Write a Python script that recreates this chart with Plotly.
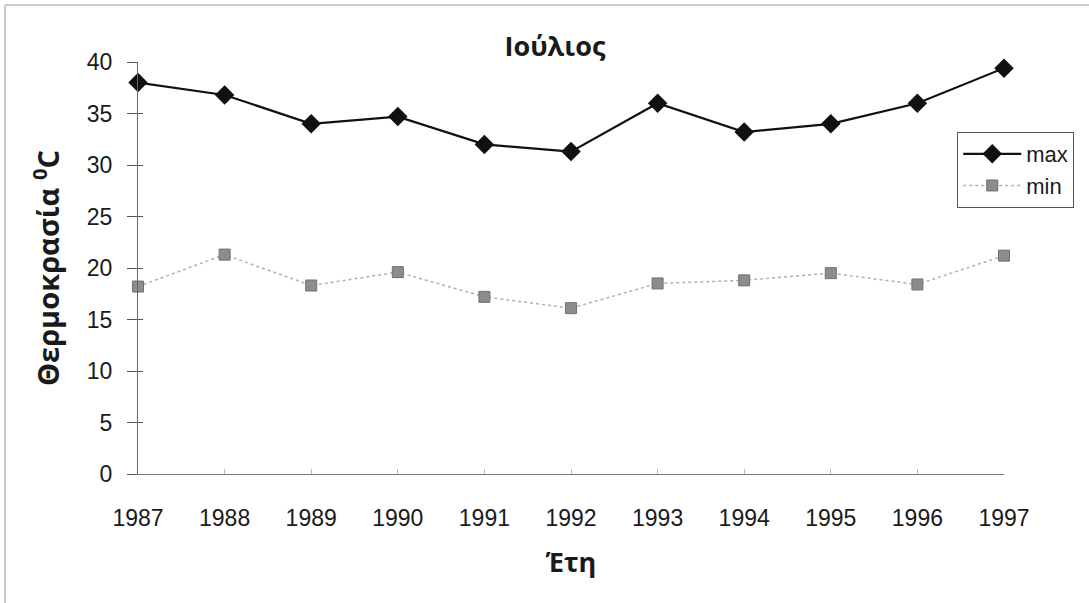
import plotly.graph_objects as go

# July temperatures per year
years = [1987, 1988, 1989, 1990, 1991, 1992, 1993, 1994, 1995, 1996, 1997]
t_max = [38.0, 36.8, 34.0, 34.7, 32.0, 31.3, 36.0, 33.2, 34.0, 36.0, 39.4]
t_min = [18.2, 21.3, 18.3, 19.6, 17.2, 16.1, 18.5, 18.8, 19.5, 18.4, 21.2]
y_ticks = [0, 5, 10, 15, 20, 25, 30, 35, 40]

TXT = "#1a1a1a"
FONT = "Liberation Sans, Arial, sans-serif"
BOLD = "Open Sans, Noto Sans, sans-serif"

fig = go.Figure()

fig.add_trace(go.Scatter(
    x=years, y=t_max, name="max", mode="lines+markers",
    line=dict(color="#111111", width=2.2),
    marker=dict(symbol="diamond", size=15, color="#111111"),
    cliponaxis=False,
))
fig.add_trace(go.Scatter(
    x=years, y=t_min, name="min", mode="lines+markers",
    line=dict(color="#b0b0b0", width=1.5, dash="dot"),
    marker=dict(symbol="square", size=11, color="#8c8c8c",
                line=dict(color="#707070", width=1)),
    cliponaxis=False,
))

fig.update_layout(
    width=1089, height=603,
    margin=dict(l=138, r=85, t=62, b=129),
    paper_bgcolor="white", plot_bgcolor="white",
    font=dict(family=FONT, size=23, color=TXT),
    showlegend=True,
    title=dict(
        text="<b>Ιούλιος</b>",
        font=dict(family=BOLD, size=27, color=TXT),
        x=0.4815, xref="paper", xanchor="center",
        y=1 - 47 / 603, yref="container", yanchor="middle",
    ),
    legend=dict(
        x=0.946, y=0.83, xanchor="left", yanchor="top",
        bgcolor="white", bordercolor="#555555", borderwidth=1,
        font=dict(family=FONT, size=22, color=TXT),
        itemwidth=58, tracegroupgap=0,
    ),
    xaxis=dict(
        range=[1987, 1997], tickmode="array", tickvals=years,
        ticktext=[str(y) for y in years],
        showgrid=False, zeroline=False,
        showline=True, linecolor="#777777", linewidth=1,
        ticks="inside", ticklen=5, tickcolor="#bbbbbb",
        ticklabelstandoff=23,
        title=dict(text="<b>Έτη</b>", font=dict(family=BOLD, size=27, color=TXT),
                   standoff=23),
    ),
    yaxis=dict(
        range=[0, 40], tickmode="array", tickvals=y_ticks,
        showgrid=False, zeroline=False,
        showline=True, linecolor="#666666", linewidth=1,
        ticks="outside", ticklen=10, tickcolor="#555555",
        ticklabelstandoff=10,
        title=dict(text="<b>Θερμοκρασία <sup>0</sup>C</b>",
                   font=dict(family=BOLD, size=29, color=TXT), standoff=18),
    ),
    # mirrored tick marks on the inner side of the y axis
    yaxis2=dict(
        range=[0, 40], tickmode="array", tickvals=y_ticks,
        overlaying="y", side="left", anchor="x",
        showgrid=False, zeroline=False, showticklabels=False,
        ticks="inside", ticklen=5, tickcolor="#555555",
    ),
    shapes=[
        # outer chart frame (top and left edges visible)
        dict(type="rect", xref="paper", yref="paper",
             x0=(5 - 138) / 866, x1=(1200 - 138) / 866,
             y0=(474 - 700) / 412, y1=(474 - 5) / 412,
             line=dict(color="#9a9a9a", width=1), fillcolor="rgba(0,0,0,0)",
             layer="below"),
    ],
)

# invisible trace to activate the secondary tick axis
fig.add_trace(go.Scatter(x=[years[0]], y=[0], yaxis="y2", mode="markers",
                         marker=dict(opacity=0), showlegend=False,
                         hoverinfo="skip"))

fig.write_html("out.html")
